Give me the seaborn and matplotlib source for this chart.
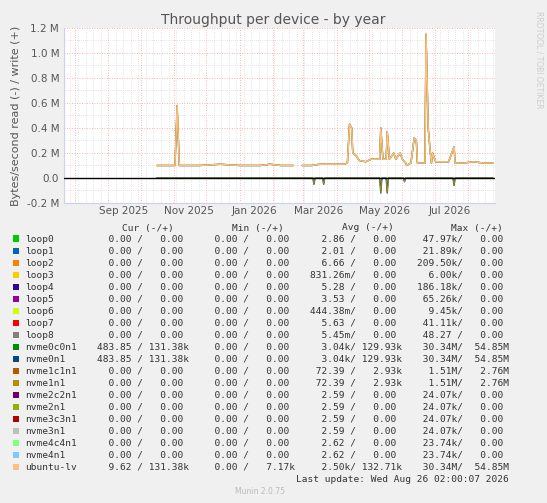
import matplotlib
matplotlib.use("Agg")
import matplotlib.pyplot as plt
import matplotlib.dates as mdates
import seaborn as sns
import pandas as pd
import numpy as np

# ---- data ----
write_dates = ["2025-10-16","2025-10-23","2025-11-02","2025-11-04","2025-11-06","2025-11-25","2025-12-14",
               "2026-01-01","2026-01-20","2026-01-29","2026-02-08","2026-02-20",None,
               "2026-02-28","2026-03-09","2026-03-16","2026-03-25","2026-04-08","2026-04-11","2026-04-13",
               "2026-04-15","2026-04-16","2026-04-19","2026-04-22","2026-04-28","2026-05-03","2026-05-09",
               "2026-05-11","2026-05-12","2026-05-14","2026-05-17","2026-05-18","2026-05-20","2026-05-24",
               "2026-05-26","2026-05-30","2026-06-01","2026-06-04","2026-06-05","2026-06-09","2026-06-12",
               "2026-06-14","2026-06-15","2026-06-19","2026-06-22","2026-06-23","2026-06-25","2026-06-27",
               "2026-06-28","2026-06-29","2026-07-02","2026-07-09","2026-07-14","2026-07-19","2026-07-20",
               "2026-07-28","2026-08-06","2026-08-15","2026-08-24"]
write_mb = [0.10,0.10,0.10,0.58,0.10,0.10,0.11,
            0.10,0.10,0.11,0.10,0.10,None,
            0.10,0.10,0.11,0.11,0.11,0.12,0.43,
            0.40,0.20,0.18,0.14,0.13,0.15,0.15,
            0.15,0.40,0.15,0.15,0.37,0.15,0.20,
            0.15,0.20,0.15,0.12,0.10,0.12,0.32,
            0.30,0.12,0.12,0.12,1.15,0.40,0.20,
            0.12,0.20,0.13,0.13,0.13,0.25,0.12,
            0.12,0.13,0.12,0.12]
read_dates = ["2025-10-16","2026-03-10","2026-03-11","2026-03-12","2026-03-19","2026-03-20","2026-03-21",
              "2026-05-11","2026-05-12","2026-05-13","2026-05-17","2026-05-18","2026-05-19",
              "2026-06-02","2026-06-03","2026-06-04","2026-07-18","2026-07-19","2026-07-20","2026-08-24"]
read_mb = [0,0,-0.05,0,0,-0.05,0, 0,-0.12,0,0,-0.12,0, 0,-0.03,0, 0,-0.06,0, 0]

names = ["loop0","loop1","loop2","loop3","loop4","loop5","loop6","loop7","loop8","nvme0c0n1","nvme0n1",
         "nvme1c1n1","nvme1n1","nvme2c2n1","nvme2n1","nvme3c3n1","nvme3n1","nvme4c4n1","nvme4n1","ubuntu-lv"]
colors = ["#00CC00","#0066B3","#FF8000","#FFCC00","#330099","#990099","#CCFF00","#FF0000","#808080","#008F00",
          "#00487D","#B35A00","#B38F00","#6B006B","#8FB300","#B30000","#BEBEBE","#80FF80","#80C9FF","#FFC080"]
cur = [("0.00 ","0.00 ")]*9 + [("483.85 ","131.38k")]*2 + [("0.00 ","0.00 ")]*8 + [("9.62 ","131.38k")]
mins = [("0.00 ","0.00 ")]*19 + [("0.00 ","7.17k")]
avgs = [("2.86 ","0.00 "),("2.01 ","0.00 "),("6.66 ","0.00 "),("831.26m","0.00 "),("5.28 ","0.00 "),
        ("3.53 ","0.00 "),("444.38m","0.00 "),("5.63 ","0.00 "),("5.45m","0.00 "),("3.04k","129.93k"),
        ("3.04k","129.93k"),("72.39 ","2.93k"),("72.39 ","2.93k"),("2.59 ","0.00 "),("2.59 ","0.00 "),
        ("2.59 ","0.00 "),("2.59 ","0.00 "),("2.62 ","0.00 "),("2.62 ","0.00 "),("2.50k","132.71k")]
maxs = [("47.97k","0.00 "),("21.89k","0.00 "),("209.50k","0.00 "),("6.00k","0.00 "),("186.18k","0.00 "),
        ("65.26k","0.00 "),("9.45k","0.00 "),("41.11k","0.00 "),("48.27 ","0.00 "),("30.34M","54.85M"),
        ("30.34M","54.85M"),("1.51M","2.76M"),("1.51M","2.76M"),("24.07k","0.00 "),("24.07k","0.00 "),
        ("24.07k","0.00 "),("24.07k","0.00 "),("23.74k","0.00 "),("23.74k","0.00 "),("30.34M","54.85M")]
yticks = [-0.2,0.0,0.2,0.4,0.6,0.8,1.0,1.2]
ytick_labels = ["-0.2 M","0.0","0.2 M","0.4 M","0.6 M","0.8 M","1.0 M","1.2 M"]

# ---- figure ----
sns.set_style("white")
W, H = 547, 503
fig = plt.figure(figsize=(W/100, H/100), dpi=100, facecolor="#F0F0F0")
ax = fig.add_axes([64/W, 1-203/H, (495-64)/W, (203-28)/H])
ax.set_facecolor("white")

wd = pd.DataFrame({"date": pd.to_datetime(write_dates), "v": write_mb})
rd = pd.DataFrame({"date": pd.to_datetime(read_dates), "v": read_mb})
segs = [wd.iloc[:12], wd.iloc[13:]]
for seg in segs:
    seg = seg.astype({"v": float})
    for c, lw in [("#00487D", 1.0), ("#B38F00", 1.0), ("#FFC080", 1.0)]:
        sns.lineplot(data=seg, x="date", y="v", color=c, lw=lw, ax=ax, estimator=None)
sns.lineplot(data=rd, x="date", y="v", color="#00487D", lw=1.0, ax=ax, estimator=None)
sns.lineplot(data=rd, x="date", y="v", color="#B38F00", lw=0.6, ax=ax, estimator=None)
ax.axhline(0, color="black", lw=1.0, zorder=5)

ax.set_xlim(pd.Timestamp("2025-07-22"), pd.Timestamp("2026-08-26"))
ax.set_ylim(-0.2, 1.2)
ax.set_yticks(yticks)
ax.set_yticklabels(ytick_labels)
ax.set_yticks(np.arange(-0.2, 1.21, 0.1), minor=True)
ax.xaxis.set_major_locator(mdates.MonthLocator())
ax.xaxis.set_minor_locator(mdates.WeekdayLocator(byweekday=mdates.MO))
ax.set_xticklabels([])
ax.tick_params(axis="both", which="both", length=0, labelsize=7.5, colors="#555555")
ax.grid(True, which="major", color="#FF9999", ls=(0, (1, 2)), lw=0.6)
ax.grid(True, which="minor", color="#CCCCCC", ls=(0, (1, 2)), lw=0.5)
for lab, d in [("Sep 2025","2025-09-15"),("Nov 2025","2025-11-15"),("Jan 2026","2026-01-15"),
               ("Mar 2026","2026-03-15"),("May 2026","2026-05-15"),("Jul 2026","2026-07-15")]:
    ax.text(pd.Timestamp(d), -0.225, lab, ha="center", va="top", fontsize=7.5, color="#555555")
for s in ["top", "right"]:
    ax.spines[s].set_visible(False)
ax.spines["left"].set_color("#CCCCFF")
ax.spines["bottom"].set_color("#CCCCFF")
ax.set_xlabel("")
ax.set_ylabel("Bytes/second read (-) / write (+)", fontsize=8, color="#555555", labelpad=4)

fig.text(273/W, 1-20/H, "Throughput per device - by year", ha="center", va="center", fontsize=10, color="#555555")
fig.text(539/W, 1-60/H, "RRDTOOL / TOBI OETIKER", rotation=270, ha="center", va="center", fontsize=5.5, color="#CCCCCC")

mono = "DejaVu Sans Mono"
fs = 6.8
tc = "#333333"
def yf(py):
    return 1 - py/H
for hdr, xc in [("Cur (-/+)",148),("Min (-/+)",258),("Avg (-/+)",368),("Max (-/+)",477)]:
    fig.text(xc/W, yf(228), hdr, ha="center", va="center", family=mono, fontsize=fs, color=tc)
def cell(p):
    a, b = p
    a = a if a[-1] != " " else a
    return f"{a:>7}/{b:>8}"
for i, n in enumerate(names):
    py = 239 + i*12
    fig.patches.append(plt.Rectangle((13/W, yf(py+2.5)), 6/W, 6/H, transform=fig.transFigure,
                                     facecolor=colors[i], edgecolor="none"))
    fig.text(25/W, yf(py), n, ha="left", va="center", family=mono, fontsize=fs, color=tc)
    for col, xr in [(cur,189),(mins,295),(avgs,402),(maxs,509)]:
        fig.text(xr/W, yf(py), cell(col[i]), ha="right", va="center", family=mono, fontsize=fs, color=tc)
fig.text(509/W, yf(480), "Last update: Wed Aug 26 02:00:07 2026", ha="right", va="center",
         family=mono, fontsize=fs, color=tc)
fig.text(260/W, yf(492), "Munin 2.0.75", ha="center", va="center", fontsize=5.5, color="#BBBBBB")

fig.savefig("out.png", dpi=100, facecolor="#F0F0F0")
